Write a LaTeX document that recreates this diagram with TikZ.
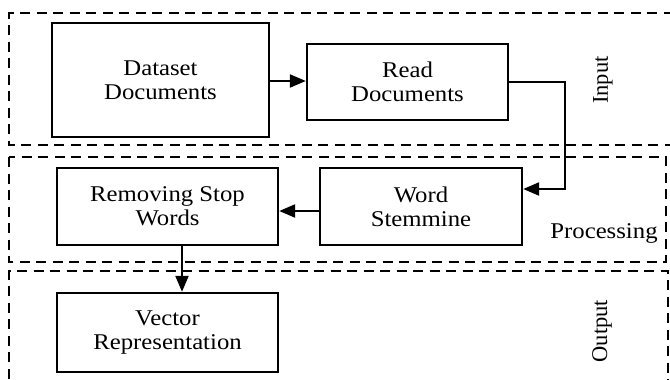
\documentclass[tikz,border=0pt]{standalone}
\usepackage{fontspec}
\setmainfont{Liberation Serif}
\newfontfamily\boxfont[FakeStretch=1.1]{Liberation Serif}
\usetikzlibrary{arrows.meta}
\tikzset{
  stage/.style={draw=black, line width=2.4pt, dash pattern=on 10pt off 6.5pt},
  stepbox/.style={draw=black, line width=2.4pt, inner sep=0pt, align=center,
    font=\boxfont\fontsize{22.5}{24}\selectfont},
  flow/.style={draw=black, line width=2.2pt, -{Triangle[length=16pt,width=13pt]}},
  stagelabel/.style={inner sep=0pt, font=\fontsize{22.5}{24}\selectfont}
}
\begin{document}
\begin{tikzpicture}[x=1pt,y=-1pt]
  \useasboundingbox (0,0) rectangle (670,380);
  \clip (0,0) rectangle (670,380);

  % stage frames
  \draw[stage] (690,13) -- (9,13) -- (9,145) -- (690,145);
  \draw[stage] (9,157) rectangle (666,262);
  \draw[stage] (9,395) -- (9,271) -- (668,271) -- (668,395);

  % process steps
  \node[stepbox, minimum width=217pt, minimum height=114pt] (data) at (160.5,80)
    {Dataset\\Documents};
  \node[stepbox, minimum width=201pt, minimum height=76pt] (read) at (407.5,82)
    {Read\\Documents};
  \node[stepbox, minimum width=202pt, minimum height=77pt] (stem) at (421,206.5)
    {Word\\Stemmine};
  \node[stepbox, minimum width=221pt, minimum height=77pt] (stop) at (167.5,206.5)
    {Removing Stop\\Words};
  \node[stepbox, minimum width=221pt, minimum height=79pt] (vec) at (167.5,332.5)
    {Vector\\Representation};

  % stage names
  \node[stagelabel, rotate=90] (lin) at (603,80) {Input};
  \node[stagelabel, font=\boxfont\fontsize{22.5}{24}\selectfont] (lproc) at (604,233) {Processing};
  \node[stagelabel, rotate=90] (lout) at (602,331) {Output};

  % connectors
  \draw[flow] ([yshift=-1pt]data.east) -- ([yshift=1pt]read.west);
  \draw[flow] (read.east) -- ++(56,0) |- ([yshift=17.5pt]stem.east);
  \draw[flow] ([yshift=-4.5pt]stem.west) -- ([yshift=-4.5pt]stop.east);
  \draw[flow] ([xshift=14.5pt]stop.south) -- ([xshift=14.5pt]vec.north);
\end{tikzpicture}
\end{document}
